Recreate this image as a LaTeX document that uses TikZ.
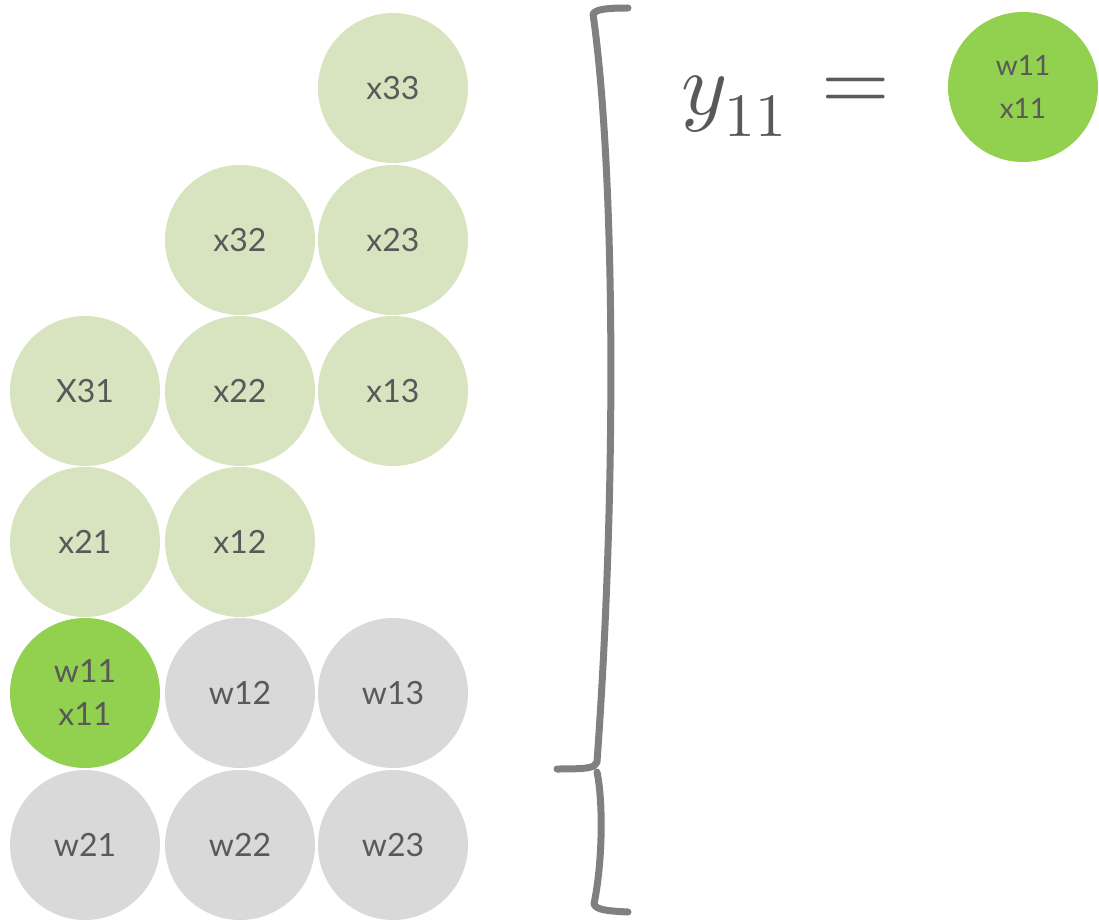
\documentclass[tikz,border=0pt]{standalone}
\usepackage{amsmath}
\usepackage{fontspec}
\usepackage{unicode-math}
\setmainfont{Lato}
\setmathfont{Latin Modern Math}
\usepackage{xcolor}
\usepackage{tikz}
\usetikzlibrary{
	calc,
	positioning
}

\definecolor{xgreen}{HTML}{D8E4BF}
\definecolor{hgreen}{HTML}{92D050}
\definecolor{wgray}{HTML}{D9D9D9}
\definecolor{txtgray}{HTML}{595959}
\definecolor{bracegray}{HTML}{808080}

\begin{document}
\begin{tikzpicture}[x=0.5pt, y=-0.5pt,
		cell/.style={circle, minimum size=75pt, inner sep=0pt, text=txtgray,
			align=center, font=\fontsize{16}{21.5}\selectfont},
		xcell/.style={cell, fill=xgreen},
		wcell/.style={cell, fill=wgray},
		hcell/.style={cell, fill=hgreen}]
		\useasboundingbox (0,0) rectangle (1099,920);
		% input values
		\node[xcell] (x33) at (393,88) {x33};
		\node[xcell] (x32) at (240,240) {x32};
		\node[xcell] (x23) at (393,240) {x23};
		\node[xcell] (x31) at (85,391) {X31};
		\node[xcell] (x22) at (240,391) {x22};
		\node[xcell] (x13) at (393,391) {x13};
		\node[xcell] (x21) at (85,542) {x21};
		\node[xcell] (x12) at (240,542) {x12};
		% weights
		\node[hcell] (w11) at (85,693) {w11\\x11};
		\node[wcell] (w12) at (240,693) {w12};
		\node[wcell] (w13) at (393,693) {w13};
		\node[wcell] (w21) at (85,845) {w21};
		\node[wcell] (w22) at (240,845) {w22};
		\node[wcell] (w23) at (393,845) {w23};
		% brace
		\draw[bracegray, line width=3.5pt, line cap=round, line join=round]
			(628,8) .. controls (608,8) and (596,9) .. (593,14)
			.. controls (614,160) and (618,470) .. (597,762)
			.. controls (595,768) and (588,769) .. (557,769);
		\draw[bracegray, line width=3.5pt, line cap=round, line join=round]
			(597,772) .. controls (603,800) and (603,860) .. (594,904)
			.. controls (596,910) and (608,911) .. (628,912);
		% result
		\node[anchor=base west, text=txtgray, font=\fontsize{44}{52}\selectfont,
			inner sep=0pt] (y11) at (681,115) {$y_{11}$};
		\node[text=txtgray, font=\fontsize{44}{52}\selectfont, inner sep=0pt]
			(eq) at (856,94) {$=$};
		\node[hcell, font=\fontsize{14}{21.5}\selectfont] (res) at (1023,87) {w11\\x11};
	\end{tikzpicture}
\end{document}
